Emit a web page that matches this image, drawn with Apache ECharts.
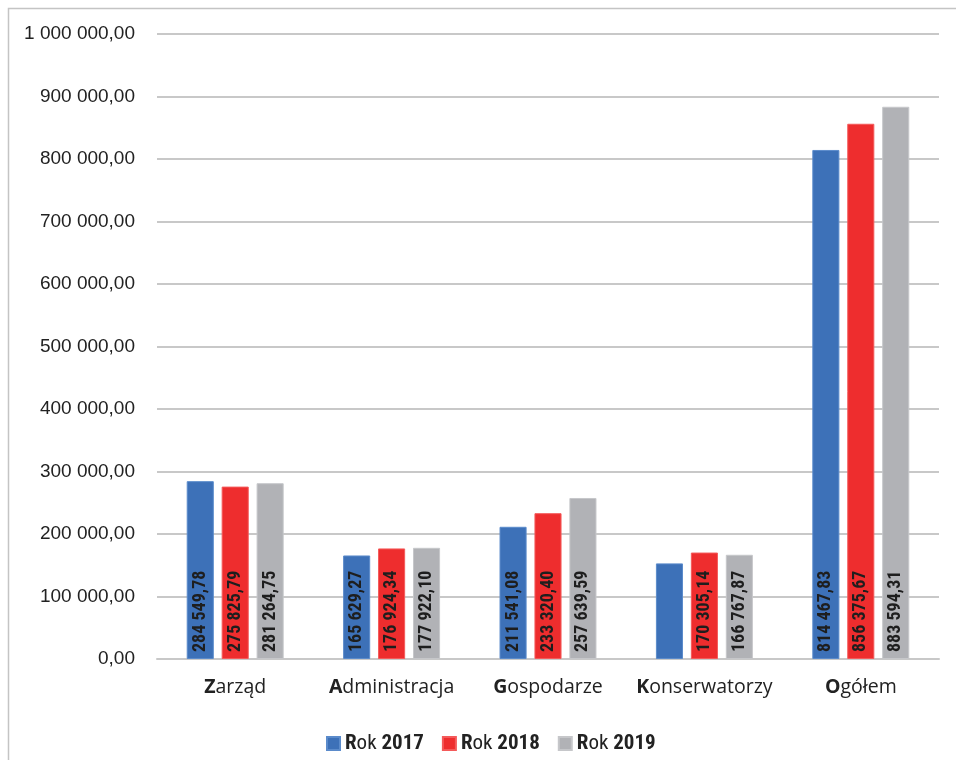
<!DOCTYPE html>
<html>
<head>
<meta charset="utf-8">
<script src="https://cdn.jsdelivr.net/npm/echarts@6/dist/echarts.min.js"></script>
<style>
  html, body { margin: 0; padding: 0; background: #fff; }
  #chart { width: 956px; height: 760px; }
</style>
</head>
<body>
<div id="chart"></div>
<script>
// Expenditure by department, years 2017-2019
const categories = ['Zarząd', 'Administracja', 'Gospodarze', 'Konserwatorzy', 'Ogółem'];
const seriesNames = ['Rok 2017', 'Rok 2018', 'Rok 2019'];
const values2017 = [284549.78, 165629.27, 211541.08, 153000, 814467.83];
const values2018 = [275825.79, 176924.34, 233320.40, 170305.14, 856375.67];
const values2019 = [281264.75, 177922.10, 257639.59, 166767.87, 883594.31];
// which bars carry a value label
const labels2017 = [true, true, true, false, true];
const labels2018 = [true, true, true, true, true];
const labels2019 = [true, true, true, true, true];
const yTicks = { min: 0, max: 1000000, interval: 100000 };

const colors = ['#3D71B8', '#EE2D2E', '#B1B2B6'];
const borders = ['#5B8BCB', '#F45A5A', '#C6C7CA'];

function fmt(v) {
  const parts = v.toFixed(2).split('.');
  const int = parts[0].replace(/\B(?=(\d{3})+(?!\d))/g, ' ');
  return int + ',' + parts[1];
}

const narrow = '"Roboto Condensed", Roboto, "Liberation Sans", sans-serif';
const humanist = '"Open Sans", "Noto Sans", sans-serif';

function makeSeries(i, values, shown) {
  return {
    name: seriesNames[i],
    type: 'bar',
    barGap: '29%',
    barCategoryGap: '38%',
    itemStyle: { color: colors[i], borderColor: borders[i], borderWidth: 1 },
    data: values.map((v, k) => ({ value: v, label: { show: shown[k] } })),
    label: {
      show: true,
      position: 'insideBottom',
      rotate: 90,
      align: 'left',
      verticalAlign: 'middle',
      distance: 7,
      color: '#1e1e1e',
      fontFamily: narrow,
      fontWeight: 'bold',
      fontSize: 18,
      formatter: p => fmt(p.value)
    }
  };
}

const chart = echarts.init(document.getElementById('chart'), null, { renderer: 'canvas' });
chart.setOption({
  animation: false,
  backgroundColor: '#fff',
  graphic: [{
    type: 'rect',
    shape: { x: 8.5, y: 8.5, width: 1000, height: 800 },
    style: { fill: 'none', stroke: '#c4c4c4', lineWidth: 1.5 },
    silent: true
  }],
  grid: { left: 157, right: 17, top: 34, bottom: 101, containLabel: false },
  legend: {
    bottom: 6,
    left: 326,
    padding: 0,
    itemWidth: 13,
    itemHeight: 13,
    itemGap: 18,
    icon: 'rect',
    data: seriesNames,
    formatter: name => {
      const yr = name.split(' ')[1];
      return '{b|R}{n|ok }{b|' + yr + '}';
    },
    textStyle: {
      rich: {
        b: { fontFamily: narrow, fontWeight: 'bold', fontSize: 21, color: '#222' },
        n: { fontFamily: narrow, fontWeight: 'normal', fontSize: 21, color: '#222' }
      }
    }
  },
  xAxis: {
    type: 'category',
    data: categories,
    axisTick: { show: false },
    axisLine: { lineStyle: { color: '#c8c8c8', width: 2 } },
    axisLabel: {
      margin: 18,
      formatter: v => '{b|' + v.charAt(0) + '}{n|' + v.slice(1) + '}',
      rich: {
        b: { fontFamily: humanist, fontWeight: 'bold', fontSize: 19.5, color: '#222' },
        n: { fontFamily: humanist, fontWeight: 'normal', fontSize: 19.5, color: '#222' }
      }
    }
  },
  yAxis: {
    type: 'value',
    min: yTicks.min,
    max: yTicks.max,
    interval: yTicks.interval,
    axisLine: { show: false },
    axisTick: { show: false },
    splitLine: { lineStyle: { color: '#c8c8c8', width: 2 } },
    axisLabel: {
      margin: 22,
      fontFamily: '"Liberation Sans", Arial, sans-serif',
      fontSize: 19,
      color: '#222',
      formatter: v => fmt(v)
    }
  },
  series: [
    makeSeries(0, values2017, labels2017),
    makeSeries(1, values2018, labels2018),
    makeSeries(2, values2019, labels2019)
  ]
});
</script>
</body>
</html>
